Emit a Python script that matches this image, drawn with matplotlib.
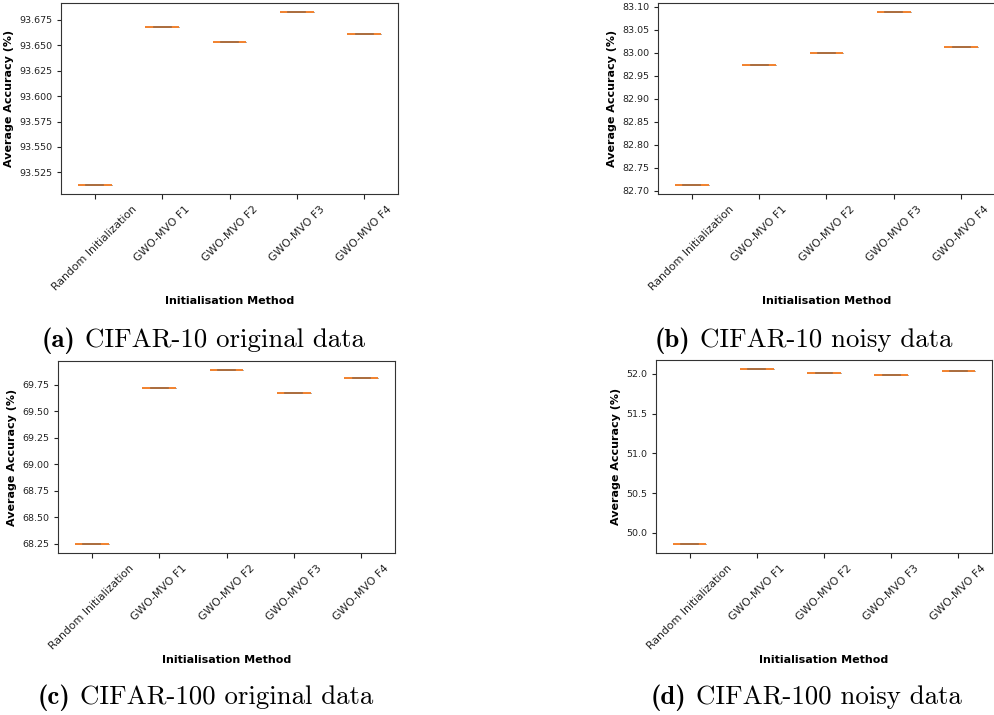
import matplotlib
matplotlib.use("Agg")
import matplotlib.pyplot as plt
from matplotlib.ticker import FormatStrFormatter

methods = ["Random Initialization", "GWO-MVO F1", "GWO-MVO F2", "GWO-MVO F3", "GWO-MVO F4"]
cifar10_orig = [93.5123, 93.6685, 93.6532, 93.6831, 93.6610]
cifar10_noisy = [82.7123, 82.9740, 82.9995, 83.0890, 83.0125]
cifar100_orig = [68.246, 69.722, 69.8915, 69.6745, 69.816]
cifar100_noisy = [49.857, 52.063, 52.009, 51.984, 52.034]

caption_tags = ["(a)", "(b)", "(c)", "(d)"]
caption_texts = ["CIFAR-10 original data", "CIFAR-10 noisy data",
                 "CIFAR-100 original data", "CIFAR-100 noisy data"]

W, H = 995, 715
fig = plt.figure(figsize=(W / 100, H / 100), dpi=100)


def rect(l, r, t, b):
    return [l / W, 1 - b / H, (r - l) / W, (b - t) / H]


panels = [
    (cifar10_orig, rect(61, 398, 3, 194), "%.3f"),
    (cifar10_noisy, rect(658, 995, 3, 194), "%.2f"),
    (cifar100_orig, rect(58, 395, 361, 553), "%.2f"),
    (cifar100_noisy, rect(656, 992, 360, 553), "%.1f"),
]

for vals, r, fmt in panels:
    ax = fig.add_axes(r)
    ax.boxplot([[v] for v in vals], tick_labels=methods,
               boxprops=dict(color="#b0b0b0", linewidth=0.5),
               whiskerprops=dict(color="#b0b0b0", linewidth=0.5),
               capprops=dict(color="#555555", linewidth=1.2, alpha=0.3, zorder=3),
               medianprops=dict(color="#f2822e", linewidth=1.4),
               flierprops=dict(marker="o", markersize=3))
    ax.tick_params(axis="y", labelsize=6.8, colors="#222222", length=3.2, pad=3)
    ax.tick_params(axis="x", labelsize=7.8, colors="#222222")
    for sp in ax.spines.values():
        sp.set_color("#333333")
    plt.setp(ax.get_xticklabels(), rotation=45, ha="center")
    ax.yaxis.set_major_formatter(FormatStrFormatter(fmt))
    ax.set_xlabel("Initialisation Method", fontsize=8, fontweight="bold", labelpad=3)
    ax.set_ylabel("Average Accuracy (%)", fontsize=8, fontweight="bold")

# captions
cap_pos = [(42, 347), (655, 347), (38, 704), (651, 704)]
fig.canvas.draw()
renderer = fig.canvas.get_renderer()
for (x, y), tag, txt in zip(cap_pos, caption_tags, caption_texts):
    t1 = fig.text(x / W, 1 - y / H, tag, fontfamily="cmb10", fontsize=19.3,
                  va="baseline", ha="left")
    bb = t1.get_window_extent(renderer)
    x2 = bb.x1 + 9
    fig.text(x2 / W, 1 - y / H, txt, fontfamily="cmr10", fontsize=19.3,
             va="baseline", ha="left")

fig.savefig("out.png", dpi=100)
